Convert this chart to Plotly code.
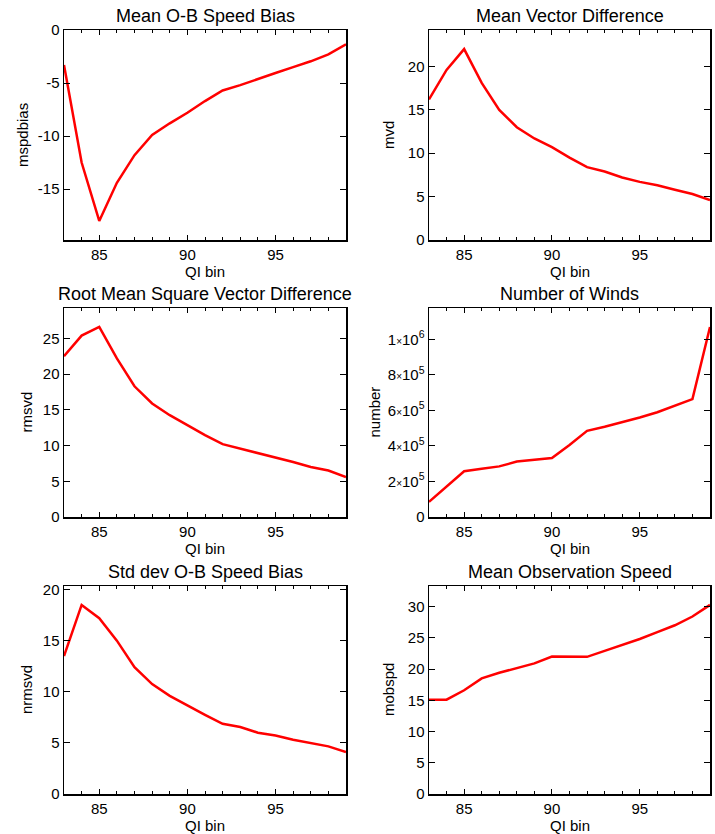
import plotly.graph_objects as go

qi_bin = [83, 84, 85, 86, 87, 88, 89, 90, 91, 92, 93, 94, 95, 96, 97, 98, 99]

mspdbias = [-3.3, -12.5, -18.0, -14.4, -11.8, -9.9, -8.8, -7.8, -6.7, -5.7,
            -5.2, -4.6, -4.05, -3.5, -2.95, -2.3, -1.35]
mvd = [16.2, 19.6, 22.0, 18.1, 15.0, 13.0, 11.7, 10.7, 9.5, 8.4,
       7.9, 7.2, 6.7, 6.3, 5.8, 5.3, 4.6]
rmsvd = [22.5, 25.4, 26.6, 22.2, 18.3, 15.9, 14.25, 12.85, 11.45, 10.2,
         9.6, 8.9, 8.3, 7.7, 7.0, 6.5, 5.6]
number = [85000, 170000, 258000, 272000, 285000, 312000, 322000, 332000, 406000, 485000,
          508000, 532000, 560000, 590000, 628000, 664000, 1070000]
nrmsvd = [13.5, 18.5, 17.2, 15.0, 12.4, 10.75, 9.6, 8.65, 7.75, 6.87,
          6.55, 6.0, 5.73, 5.3, 5.0, 4.66, 4.1]
mobspd = [15.1, 15.1, 16.6, 18.5, 19.4, 20.1, 20.9, 22.0, 22.0, 21.95,
          22.9, 23.8, 24.8, 25.9, 27.0, 28.4, 30.26]

titles = ["Mean O-B Speed Bias", "Mean Vector Difference",
          "Root Mean Square Vector Difference", "Number of Winds",
          "Std dev O-B Speed Bias", "Mean Observation Speed"]
ytitles = ["mspdbias", "mvd", "rmsvd", "number", "nrmsvd", "mobspd"]
xtitle = "QI bin"
series = [mspdbias, mvd, rmsvd, number, nrmsvd, mobspd]

TIMES = "<span style='font-size:10px'>×</span>"
x_ticks = [85, 90, 95]
y_ticks = [
    ([-15, -10, -5, 0], ["-15", "-10", "-5", "0"]),
    ([0, 5, 10, 15, 20], ["0", "5", "10", "15", "20"]),
    ([0, 5, 10, 15, 20, 25], ["0", "5", "10", "15", "20", "25"]),
    ([0, 200000, 400000, 600000, 800000, 1000000],
     ["0", "2" + TIMES + "10<sup>5</sup>", "4" + TIMES + "10<sup>5</sup>",
      "6" + TIMES + "10<sup>5</sup>", "8" + TIMES + "10<sup>5</sup>",
      "1" + TIMES + "10<sup>6</sup>"]),
    ([0, 5, 10, 15, 20], ["0", "5", "10", "15", "20"]),
    ([0, 5, 10, 15, 20, 25, 30], ["0", "5", "10", "15", "20", "25", "30"]),
]

W, H = 715, 834
col_px = [(64, 346), (429, 710)]
row_px = [(30, 240), (308, 517), (586, 794)]
ytitle_x = [22, 388, 26, 374, 26, 388]


def px_x(v):
    return v / W


def px_y(v):
    return 1 - v / H


FONT = "Liberation Sans, Arial, Helvetica, sans-serif"

fig = go.Figure()
layout = dict(width=W, height=H, margin=dict(l=0, r=0, t=0, b=0, pad=0),
              paper_bgcolor="white", plot_bgcolor="white", showlegend=False,
              font=dict(family=FONT, color="black", size=15))
annotations = []

for i in range(6):
    r, c = divmod(i, 2)
    x0, x1 = col_px[c]
    top, bot = row_px[r]
    xs = "" if i == 0 else str(i + 1)
    fig.add_trace(go.Scatter(x=qi_bin, y=series[i], mode="lines",
                             line=dict(color="#ff0000", width=2.5),
                             xaxis="x" + xs, yaxis="y" + xs))
    vals = series[i]
    if min(vals) < 0:
        yr = [1.1 * min(vals), 0]
    else:
        yr = [0, 1.1 * max(vals)]
    layout["xaxis" + xs] = dict(
        domain=[px_x(x0), px_x(x1)], anchor="y" + xs, range=[83, 99],
        tickvals=x_ticks, ticks="inside", ticklen=5, tickwidth=1, tickcolor="black",
        showline=True, linecolor="black", linewidth=1.5, mirror="ticks",
        showgrid=False, zeroline=False, tickfont=dict(size=15), automargin=False,
        minor=dict(dtick=1, tick0=83, ticks="inside", ticklen=3, tickcolor="black", showgrid=False),
    )
    layout["yaxis" + xs] = dict(
        domain=[px_y(bot), px_y(top)], anchor="x" + xs, range=yr,
        tickvals=y_ticks[i][0], ticktext=y_ticks[i][1],
        ticks="inside", ticklen=6, tickwidth=1, tickcolor="black",
        showline=True, linecolor="black", linewidth=1.5, mirror="ticks",
        showgrid=False, zeroline=False, tickfont=dict(size=15), automargin=False,
    )
    annotations.append(dict(text=titles[i], x=px_x((x0 + x1) / 2), y=px_y(top - 14),
                            xref="paper", yref="paper", showarrow=False,
                            xanchor="center", yanchor="middle", font=dict(size=18)))
    annotations.append(dict(text=xtitle, x=px_x((x0 + x1) / 2), y=px_y(bot + 31),
                            xref="paper", yref="paper", showarrow=False,
                            xanchor="center", yanchor="middle", font=dict(size=15)))
    annotations.append(dict(text=ytitles[i], x=px_x(ytitle_x[i]), y=px_y((top + bot) / 2),
                            xref="paper", yref="paper", showarrow=False, textangle=-90,
                            xanchor="center", yanchor="middle", font=dict(size=15)))

layout["annotations"] = annotations
fig.update_layout(**layout)

fig.write_html(
    "out.html",
    config={"displayModeBar": False, "staticPlot": True},
    post_script="document.body.style.margin='0';document.body.style.overflow='hidden';",
)
